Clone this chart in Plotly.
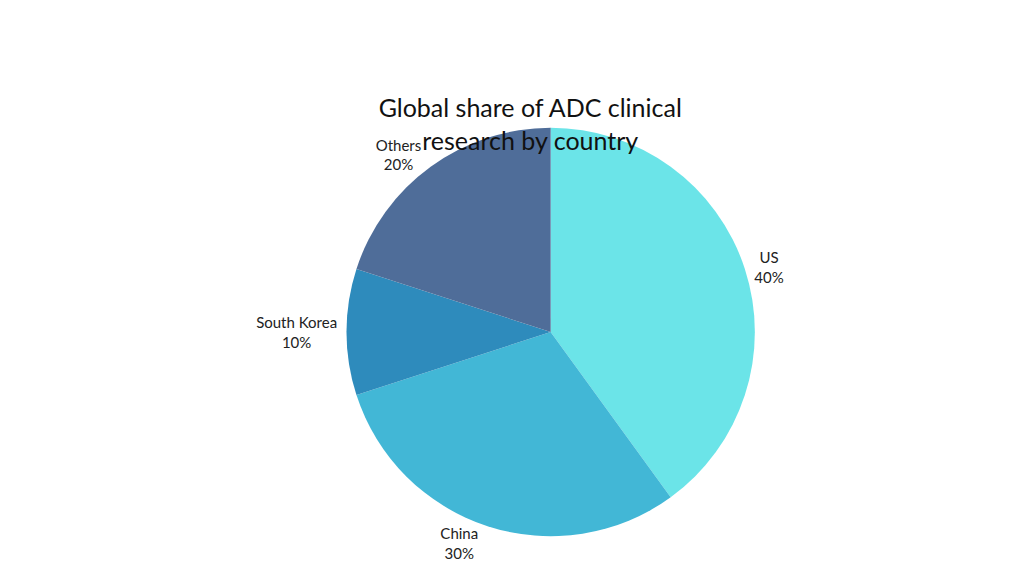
import plotly.graph_objects as go

labels = ["US", "China", "South Korea", "Others"]
values = [40, 30, 10, 20]
colors = ["#6BE4E8", "#42B7D6", "#2E8BBC", "#4F6D99"]

fig = go.Figure(go.Pie(
    labels=labels, values=values, sort=False, direction="clockwise", rotation=0,
    marker=dict(colors=colors), textinfo="label+percent", textposition="outside",
    texttemplate="%{label}<br>%{percent:.0%}",
    textfont=dict(family="Lato", size=15, color="#222"),
    showlegend=False, domain=dict(x=[0.075, 0.9], y=[0.083, 0.792]),
    hoverinfo="label+percent",
))
fig.update_layout(
    width=1024, height=576, margin=dict(l=0, r=0, t=0, b=0),
    paper_bgcolor="white", plot_bgcolor="white",
    title=dict(text="Global share of ADC clinical<br>research by country", x=0.51, xanchor="center",
               y=0.81, yanchor="bottom", font=dict(family="Lato", size=25, color="#111")),
)
fig.write_html("out.html")
